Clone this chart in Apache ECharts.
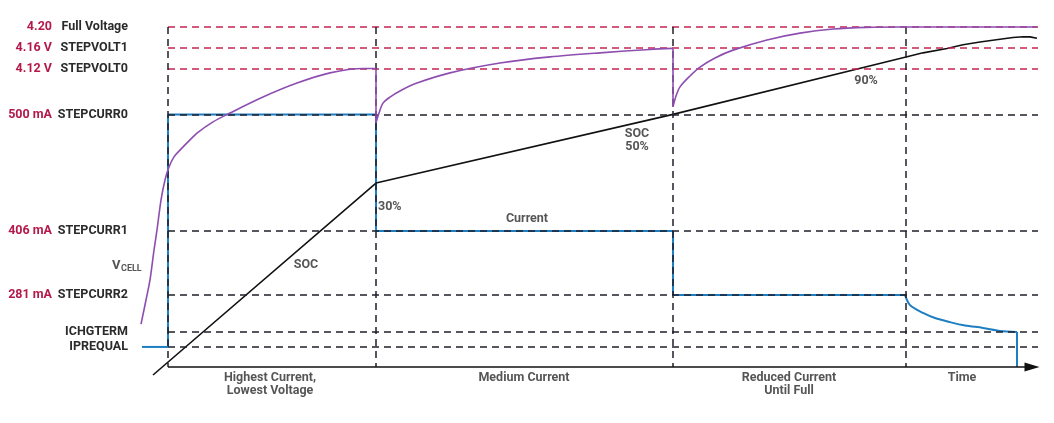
<!DOCTYPE html>
<html>
<head>
<meta charset="utf-8">
<script src="https://cdn.jsdelivr.net/npm/echarts@6/dist/echarts.min.js"></script>
<style>html,body{margin:0;padding:0;background:#fff}#c{width:1054px;height:423px}</style>
</head>
<body>
<div id="c"></div>
<script>
// ---- data (time in arbitrary units, level in % of chart height) ----
const levelValues  = [100, 93.8, 87.8, 74.3, 40, 21.2, 10.3, 5.9];
const levelNumbers = ['4.20', '4.16 V', '4.12 V', '500 mA', '406 mA', '281 mA', '', ''];
const levelNames   = ['Full Voltage', 'STEPVOLT1', 'STEPVOLT0', 'STEPCURR0', 'STEPCURR1', 'STEPCURR2', 'ICHGTERM', 'IPREQUAL'];
const levelKinds   = ['V', 'V', 'V', 'I', 'I', 'I', 'I', 'I'];
const phaseBounds  = [0, 20.8, 50.5, 73.8];
const phaseLabels  = ['Highest Current,\nLowest Voltage', 'Medium Current', 'Reduced Current\nUntil Full', 'Time'];
const phaseLabelT  = [10.2, 35.6, 62.1, 79.4];
const timeEnd = 87.0;

// constant-current steps
const currentStepT = [-2.6, 0, 0, 20.8, 20.8, 50.5, 50.5, 73.7];
const currentStepV = [5.9, 5.9, 74.3, 74.3, 40, 40, 21.2, 21.2];
// taper to termination
const currentTaperT = [73.7, 74.2, 75.5, 76.7, 78.2, 79.7, 81.5, 83.2, 84.9, 84.9];
const currentTaperV = [21.2, 18.2, 15.9, 14.4, 13.2, 12.2, 11.5, 10.6, 10.3, 0];

const vcellT = [-2.7, -2.2, -1.8, -1.4, -1.1, -0.7, -0.3, 0.1, 0.6, 1.2, 2.2, 2.9, 4.5, 6.2, 9.5, 12.9, 16.2, 19.5, 20.8,
                20.8, 21.1, 21.5, 22.2, 23.2, 24.9, 28.2, 33.2, 38.2, 43.2, 48.2, 50.5,
                50.5, 50.8, 51.2, 52.2, 53.2, 54.7, 56.5, 59.9, 63.2, 66.5, 69.9, 73.2, 86.9];
const vcellV = [12.6, 19.7, 25.6, 34.4, 40.3, 49.1, 55.0, 58.8, 61.8, 63.8, 66.8, 68.8, 72.1, 74.7, 79.4, 83.5, 86.5, 87.8, 87.8,
                71.8, 74.7, 77.6, 79.4, 81.2, 83.5, 86.5, 89.4, 91.2, 92.4, 93.4, 93.7,
                76.5, 79.7, 82.4, 85.6, 88.2, 90.9, 93.2, 96.2, 98.2, 99.4, 99.9, 100, 100];

const socT = [-1.5, 20.8, 50.5, 73.8, 75.5, 77.9, 79.5, 81.2, 83.2, 84.5, 85.5, 86.2, 86.9];
const socV = [-2.35, 54.1, 74.3, 91.2, 92.4, 93.7, 94.8, 95.6, 96.4, 96.9, 97.15, 97.1, 96.7];

// ---- styling ----
const FONT = 'Roboto';
const FS = 12.5;
const TXT = '#2b2b2b';
const RED_TXT = '#b3194a';
const RED_LINE = '#c62452';
const DASH_BLK = '#1f1f2b';
const BLUE = '#1d7ec2';
const PURPLE = '#8e4eb0';

// split a trace into increasing-time runs (optionally smoothed) and vertical jumps (straight)
function traceSeries(T, V, style, z, smooth) {
  const out = [];
  let run = [[T[0], V[0]]];
  const flush = () => {
    if (run.length > 1) out.push({ type: 'line', z, showSymbol: false, clip: false, silent: true,
      smooth: smooth ? 0.3 : false, lineStyle: style, data: run });
  };
  for (let i = 1; i < T.length; i++) {
    if (T[i] === T[i - 1]) {
      flush();
      out.push({ type: 'line', z, showSymbol: false, clip: false, silent: true, lineStyle: style,
        data: [[T[i - 1], V[i - 1]], [T[i], V[i]]] });
      run = [[T[i], V[i]]];
    } else {
      run.push([T[i], V[i]]);
    }
  }
  flush();
  return out;
}

const lineMarks = [];
levelValues.forEach((v, i) => {
  lineMarks.push([
    { coord: [0, v], lineStyle: { color: levelKinds[i] === 'V' ? RED_LINE : DASH_BLK, type: [7, 5], width: 1.5 } },
    { coord: [timeEnd, v] }
  ]);
});
phaseBounds.forEach(t => {
  lineMarks.push([
    { coord: [t, 100], lineStyle: { color: DASH_BLK, type: [7, 5], width: 1.5 } },
    { coord: [t, 0] }
  ]);
});
lineMarks.push([
  { coord: [0, 0], symbol: 'none', lineStyle: { color: '#111', type: 'solid', width: 1.5 } },
  { coord: [timeEnd - 0.6, 0], symbol: 'triangle', symbolSize: [9, 15] }
]);

const textStyle = { fontFamily: FONT, fontWeight: 'bold', fontSize: FS, color: TXT };
const annotations = [
  { value: [13.8, 30.0], text: 'SOC', align: 'center' },
  { value: [21.0, 47.1], text: '30%', align: 'left' },
  { value: [35.9, 43.5], text: 'Current', align: 'center' },
  { value: [46.9, 66.8], text: 'SOC\n50%', align: 'center' },
  { value: [69.8, 84.1], text: '90%', align: 'center' }
];
phaseLabels.forEach((s, i) => {
  annotations.push({ value: [phaseLabelT[i], s.indexOf('\n') >= 0 ? -5.0 : -3.2], text: s, align: 'center' });
});

const series = [
  {
    type: 'line', data: [], z: 1, silent: true,
    markLine: { silent: true, symbol: ['none', 'none'], label: { show: false }, animation: false, data: lineMarks }
  },
  ...traceSeries(currentStepT, currentStepV, { color: BLUE, width: 2 }, 3, false),
  ...traceSeries(currentTaperT, currentTaperV, { color: BLUE, width: 2 }, 3, true),
  ...traceSeries(socT, socV, { color: '#111', width: 1.6 }, 4, false),
  ...traceSeries(vcellT, vcellV, { color: PURPLE, width: 1.6 }, 5, true),
  {
    type: 'scatter', symbolSize: 0, clip: false, silent: true, z: 6,
    data: annotations.map(a => ({
      value: a.value,
      label: { show: true, position: 'inside', formatter: a.text, align: a.align, verticalAlign: 'middle', lineHeight: 13, ...textStyle }
    }))
  },
  {
    type: 'scatter', symbolSize: 0, clip: false, silent: true, z: 6,
    data: [
      { value: [-5.6, 29.9], label: { show: true, position: 'inside', formatter: 'V', fontFamily: FONT, fontWeight: 'bold', fontSize: 13, color: TXT, verticalAlign: 'middle', align: 'left' } },
      { value: [-4.7, 28.9], label: { show: true, position: 'inside', formatter: 'CELL', fontFamily: FONT, fontWeight: 'bold', fontSize: 9, color: TXT, verticalAlign: 'middle', align: 'left' } }
    ]
  }
];

const option = {
  animation: false,
  backgroundColor: '#fff',
  grid: { left: 140, right: 9, top: 20.2, bottom: 45.8 },
  xAxis: { type: 'value', min: -2.8, max: 87.7, show: false },
  yAxis: {
    type: 'value', min: -3, max: 102,
    axisLine: { show: false }, axisTick: { show: false }, splitLine: { show: false },
    axisLabel: {
      customValues: levelValues,
      margin: 12,
      formatter: v => {
        const i = levelValues.indexOf(v);
        if (i < 0) return '';
        return '{n|' + levelNumbers[i] + '}{s|' + levelNames[i] + '}';
      },
      rich: {
        n: { fontFamily: FONT, fontWeight: 'bold', fontSize: FS, color: RED_TXT, width: 50, align: 'right', padding: [0, 6, 0, 0] },
        s: { fontFamily: FONT, fontWeight: 'bold', fontSize: FS, color: TXT, width: 70, align: 'right' }
      }
    }
  },
  series
};
const chart = echarts.init(document.getElementById('c'), null, { renderer: 'canvas' });
chart.setOption(option);
</script>
</body>
</html>
